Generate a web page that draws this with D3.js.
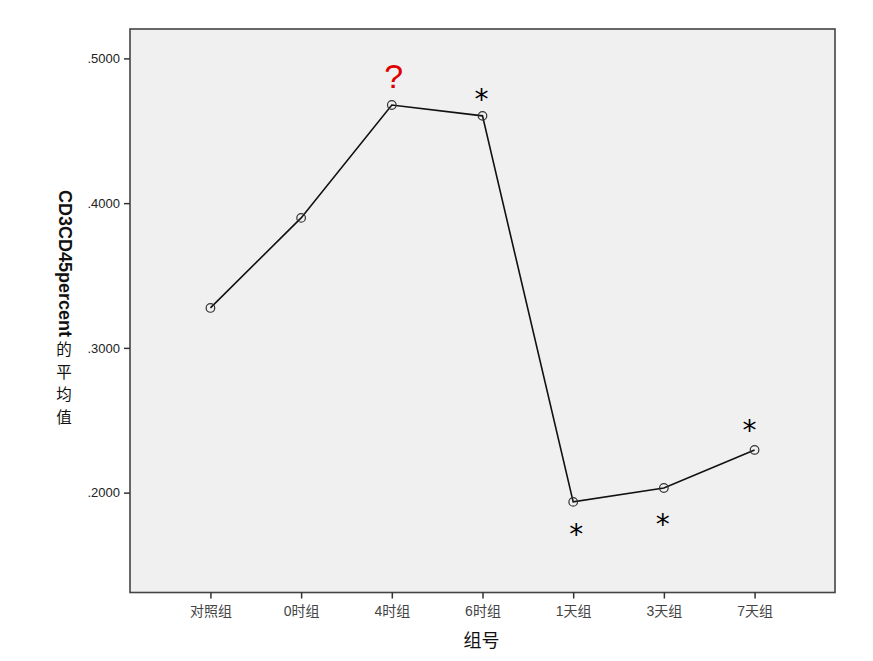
<!DOCTYPE html>
<html><head><meta charset="utf-8">
<script src="https://cdn.jsdelivr.net/npm/d3@7"></script>
<style>body{margin:0;background:#fff;}svg{display:block;}</style>
</head><body>
<svg id="c" width="873" height="661"></svg>
<script>
const categories = ["对照组","0时组","4时组","6时组","1天组","3天组","7天组"];
const values = [0.3276, 0.3898, 0.4678, 0.4603, 0.1936, 0.2032, 0.2295];
const yTicks = [0.2, 0.3, 0.4, 0.5];
const marks = ["", "", "?", "*", "*", "*", "*"];
const xTitle = "组号";
const yTitleLatin = "CD3CD45percent";
const yTitleCJK = ["的", "平", "均", "值"];

// annotation placement (pixel offsets from the point, layout only)
const markDx = [0, 0, 2, -1, 3, -1, -5];
const markDy = [0, 0, -17, -7, 42, 46, -10];

const svg = d3.select("#c");
const L = 130, R = 835, T = 29, B = 592.5;
const x = d3.scalePoint().domain(categories).range([L, R]).padding(0.887);
const y = d3.scaleLinear().domain([0.131, 0.5203]).range([B, T]);

svg.append("rect").attr("x", L).attr("y", T).attr("width", R - L).attr("height", B - T)
  .attr("fill", "#f0f0f0").attr("stroke", "#444").attr("stroke-width", 1.6);

const yAxis = svg.append("g").attr("transform", `translate(${L},0)`)
  .call(d3.axisLeft(y).tickValues(yTicks).tickSize(6).tickPadding(4).tickFormat(d => d3.format(".4f")(d).replace(/^0/, "")));
yAxis.select(".domain").remove();
yAxis.selectAll("line").attr("stroke", "#333").attr("stroke-width", 1.5);
yAxis.selectAll("text").attr("font-family", "Liberation Sans, Arial, sans-serif").attr("font-size", 13).attr("fill", "#222");

const xAxis = svg.append("g").attr("transform", `translate(0,${B})`)
  .call(d3.axisBottom(x).tickSize(6).tickPadding(8));
xAxis.select(".domain").remove();
xAxis.selectAll("line").attr("stroke", "#333").attr("stroke-width", 1.5);
xAxis.selectAll("text").attr("font-family", "Liberation Sans, 'Noto Sans CJK SC', sans-serif").attr("font-size", 14).attr("fill", "#444");

const line = d3.line().x((d, i) => x(categories[i])).y(d => y(d));
svg.append("path").datum(values).attr("d", line).attr("fill", "none").attr("stroke", "#111").attr("stroke-width", 1.6);

svg.selectAll("circle.pt").data(values).join("circle").attr("class", "pt")
  .attr("cx", (d, i) => x(categories[i])).attr("cy", d => y(d)).attr("r", 4.3)
  .attr("fill", "none").attr("stroke", "#333").attr("stroke-width", 1.2);

svg.selectAll("text.mk").data(values).join("text").attr("class", "mk")
  .attr("x", (d, i) => x(categories[i]) + markDx[i])
  .attr("y", (d, i) => y(d) + markDy[i])
  .attr("text-anchor", "middle")
  .attr("font-family", (d, i) => marks[i] === "?" ? "Liberation Sans, Arial, sans-serif" : "'DejaVu Sans', Arial, sans-serif")
  .attr("font-size", (d, i) => marks[i] === "?" ? 34 : 28)
  .attr("fill", (d, i) => marks[i] === "?" ? "#e00000" : "#000")
  .text((d, i) => marks[i]);

svg.append("text").attr("x", (L + R) / 2 - 1).attr("y", 647).attr("text-anchor", "middle")
  .attr("font-family", "'Noto Sans CJK SC', sans-serif").attr("font-size", 18).attr("fill", "#111").text(xTitle);

// y title: latin part rotated, CJK characters stacked upright
svg.append("text").attr("transform", "translate(59,190) rotate(90)")
  .attr("font-family", "Liberation Sans, Arial, sans-serif")
  .attr("font-size", 18).attr("font-weight", "bold").attr("fill", "#111").text(yTitleLatin);
const cjk = svg.append("text")
  .attr("text-anchor", "middle")
  .attr("font-family", "'Noto Sans CJK SC', sans-serif")
  .attr("font-size", 15.5).attr("fill", "#111");
cjk.selectAll("tspan").data(yTitleCJK).join("tspan")
  .attr("x", 64).attr("y", (d, i) => 355 + i * 22.5).text(d => d);
</script>
</body></html>
